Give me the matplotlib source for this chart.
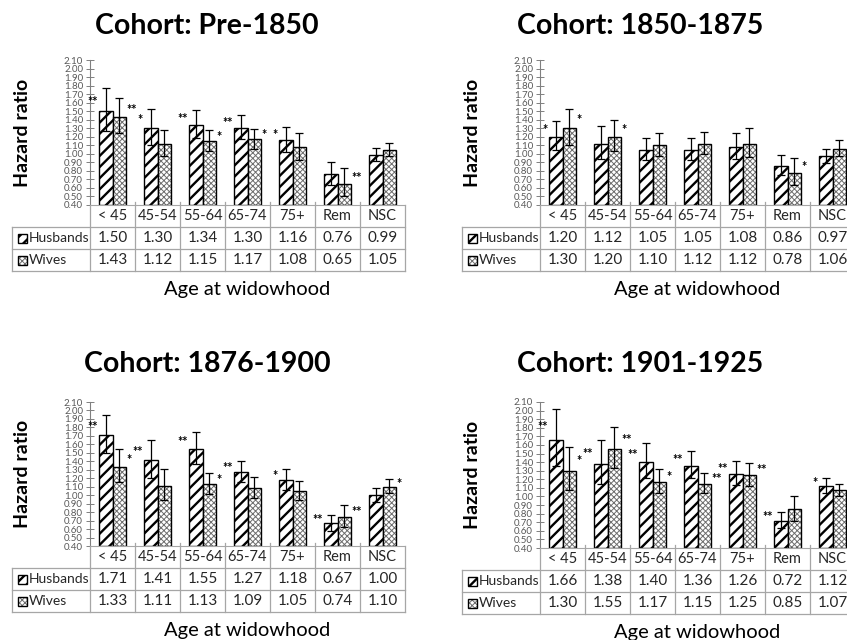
import matplotlib

matplotlib.use("Agg")
import matplotlib.pyplot as plt
from matplotlib.patches import Rectangle

plt.rcParams["font.family"] = ["Lato", "DejaVu Sans"]

W, H = 847, 640

categories = ["< 45", "45-54", "55-64", "65-74", "75+", "Rem", "NSC"]
cohorts = ["Pre-1850", "1850-1875", "1876-1900", "1901-1925"]
y_ticks = [0.40 + 0.10 * i for i in range(18)]

# hazard ratios (also printed in the table)
husbands = {
    "Pre-1850": [1.50, 1.30, 1.34, 1.30, 1.16, 0.76, 0.99],
    "1850-1875": [1.20, 1.12, 1.05, 1.05, 1.08, 0.86, 0.97],
    "1876-1900": [1.71, 1.41, 1.55, 1.27, 1.18, 0.67, 1.00],
    "1901-1925": [1.66, 1.38, 1.40, 1.36, 1.26, 0.72, 1.12],
}
wives = {
    "Pre-1850": [1.43, 1.12, 1.15, 1.17, 1.08, 0.65, 1.05],
    "1850-1875": [1.30, 1.20, 1.10, 1.12, 1.12, 0.78, 1.06],
    "1876-1900": [1.33, 1.11, 1.13, 1.09, 1.05, 0.74, 1.10],
    "1901-1925": [1.30, 1.55, 1.17, 1.15, 1.25, 0.85, 1.07],
}

# confidence intervals
husbands_lo = {
    "Pre-1850": [1.27, 1.10, 1.19, 1.17, 1.02, 0.64, 0.92],
    "1850-1875": [1.04, 0.94, 0.93, 0.93, 0.94, 0.75, 0.89],
    "1876-1900": [1.50, 1.20, 1.37, 1.15, 1.06, 0.58, 0.92],
    "1901-1925": [1.36, 1.15, 1.21, 1.21, 1.13, 0.63, 1.04],
}
husbands_hi = {
    "Pre-1850": [1.77, 1.53, 1.51, 1.45, 1.32, 0.90, 1.07],
    "1850-1875": [1.39, 1.33, 1.19, 1.19, 1.24, 0.99, 1.06],
    "1876-1900": [1.95, 1.65, 1.75, 1.40, 1.31, 0.77, 1.09],
    "1901-1925": [2.02, 1.66, 1.62, 1.53, 1.41, 0.825, 1.21],
}
wives_lo = {
    "Pre-1850": [1.24, 0.98, 1.03, 1.06, 0.93, 0.51, 0.98],
    "1850-1875": [1.10, 1.03, 0.98, 1.00, 0.96, 0.64, 0.97],
    "1876-1900": [1.15, 0.94, 1.01, 0.97, 0.94, 0.62, 1.02],
    "1901-1925": [1.07, 1.33, 1.04, 1.04, 1.12, 0.72, 1.00],
}
wives_hi = {
    "Pre-1850": [1.65, 1.28, 1.28, 1.29, 1.25, 0.83, 1.13],
    "1850-1875": [1.53, 1.40, 1.24, 1.26, 1.30, 0.95, 1.16],
    "1876-1900": [1.54, 1.31, 1.26, 1.22, 1.17, 0.88, 1.19],
    "1901-1925": [1.58, 1.81, 1.32, 1.27, 1.39, 1.00, 1.15],
}

# significance stars
husbands_sig = {
    "Pre-1850": ["**", "*", "**", "**", "*", "", ""],
    "1850-1875": ["*", "", "", "", "", "", ""],
    "1876-1900": ["**", "**", "**", "**", "*", "**", ""],
    "1901-1925": ["**", "**", "**", "**", "**", "**", "*"],
}
wives_sig = {
    "Pre-1850": ["**", "", "*", "*", "", "**", ""],
    "1850-1875": ["*", "*", "", "", "", "*", ""],
    "1876-1900": ["*", "", "*", "", "", "**", "*"],
    "1901-1925": ["*", "**", "*", "**", "**", "", ""],
}

# panel layout in pixels: y-axis x, y of 2.10, y of 0.40, left edge of table, title x/y
panels = {
    "Pre-1850": (90, 60, 205, 12, 207, 26),
    "1850-1875": (540, 60, 205, 462, 640, 26),
    "1876-1900": (90, 402, 546, 12, 207, 364),
    "1901-1925": (540, 402, 548, 462, 640, 364),
}
COL_W = 45
ROW_H = 22
BAR_W = 0.3
GRID = "#a6a6a6"
TEXT = "#262626"

H_HATCH = dict(hatch="///", color="black", lw=1.7)
W_HATCH = dict(hatch="xxxxxx", color="#6e6e6e", lw=0.7)


def fig_box(x0, y0, x1, y1):
    return [x0 / W, 1 - y1 / H, (x1 - x0) / W, (y1 - y0) / H]


def hatched_rect(ax, x, y, w, h, style, clip=True):
    p = Rectangle((x, y), w, h, facecolor="white", edgecolor=style["color"],
                  hatch=style["hatch"], lw=0, clip_on=clip)
    if hasattr(p, "set_hatch_linewidth"):
        p.set_hatch_linewidth(style["lw"])
    ax.add_patch(p)
    ax.add_patch(Rectangle((x, y), w, h, fill=False, edgecolor="black", lw=1.0, clip_on=clip))


def draw_panel(fig, cohort):
    ax_x, y_top, y_bot, tab_left, tx, ty = panels[cohort]
    n = len(categories)
    x_right = ax_x + n * COL_W
    ax = fig.add_axes(fig_box(ax_x, y_top, x_right, y_bot))
    ax.set_xlim(-0.5, n - 0.5)
    ax.set_ylim(0.40, 2.10)

    hv, wv = husbands[cohort], wives[cohort]
    for i in range(n):
        hatched_rect(ax, i - BAR_W, 0.40, BAR_W, hv[i] - 0.40, H_HATCH)
        hatched_rect(ax, i, 0.40, BAR_W, wv[i] - 0.40, W_HATCH)
    xs_h = [i - BAR_W / 2 for i in range(n)]
    xs_w = [i + BAR_W / 2 for i in range(n)]
    for xs, v, lo, hi in [
        (xs_h, hv, husbands_lo[cohort], husbands_hi[cohort]),
        (xs_w, wv, wives_lo[cohort], wives_hi[cohort]),
    ]:
        ax.errorbar(xs, v, yerr=[[a - b for a, b in zip(v, lo)], [b - a for a, b in zip(v, hi)]],
                    fmt="none", ecolor="black", elinewidth=0.9, capsize=3, capthick=0.9, zorder=5)
    for i in range(n):
        if husbands_sig[cohort][i]:
            y = hv[i] + 0.4 * (husbands_hi[cohort][i] - hv[i])
            ax.text(i - BAR_W - 0.02, y, husbands_sig[cohort][i], ha="right", va="center",
                    fontsize=9, fontweight="bold", color="black")
        if wives_sig[cohort][i]:
            y = wv[i] + 0.4 * (wives_hi[cohort][i] - wv[i])
            ax.text(i + BAR_W + 0.02, y, wives_sig[cohort][i], ha="left", va="center",
                    fontsize=9, fontweight="bold", color="black")

    ax.set_yticks(y_ticks)
    ax.set_yticklabels([f"{t:.2f}" for t in y_ticks], fontsize=7, color="#595959")
    ax.set_xticks([])
    ax.tick_params(axis="y", direction="inout", length=6, width=0.7, color="#808080", pad=2)
    for side in ["top", "right"]:
        ax.spines[side].set_visible(False)
    ax.spines["left"].set_color("#808080")
    ax.spines["bottom"].set_color(GRID)
    ax.patch.set_alpha(0)

    # data table under the chart
    left_cat = -0.5 - (ax_x - tab_left) / COL_W
    tab = fig.add_axes(fig_box(tab_left, y_bot, x_right, y_bot + 3 * ROW_H))
    tab.set_xlim(left_cat, n - 0.5)
    tab.set_ylim(3, 0)
    tab.axis("off")
    lk = dict(color=GRID, lw=0.9, clip_on=False)
    for k in range(n + 1):
        tab.plot([k - 0.5, k - 0.5], [-0.15 if 0 < k < n else 0, 3], **lk)
    tab.plot([left_cat, left_cat], [1, 3], **lk)
    for r in [1, 2, 3]:
        tab.plot([left_cat, n - 0.5], [r, r], **lk)
    for i, c in enumerate(categories):
        tab.text(i, 0.5, c, ha="center", va="center", fontsize=10.5, color=TEXT)
        tab.text(i, 1.5, f"{hv[i]:.2f}", ha="center", va="center", fontsize=11, color=TEXT)
        tab.text(i, 2.5, f"{wv[i]:.2f}", ha="center", va="center", fontsize=11, color=TEXT)
    key_w = 9 / COL_W
    key_h = 9 / ROW_H
    key_x = left_cat + 6 / COL_W
    for r, (label, style) in enumerate([("Husbands", H_HATCH), ("Wives", W_HATCH)]):
        hatched_rect(tab, key_x, 1.5 + r - key_h / 2, key_w, key_h, style, clip=False)
        tab.text(key_x + key_w + 2 / COL_W, 1.5 + r, label, ha="left", va="center",
                 fontsize=10, color=TEXT)

    fig.text(tx / W, 1 - ty / H, f"Cohort: {cohort}", ha="center", va="center",
             fontsize=20.5, fontweight="bold", color="black")
    fig.text((tab_left + 10) / W, 1 - (y_top + y_bot) / 2 / H, "Hazard ratio", rotation=90,
             ha="center", va="center", fontsize=14, fontweight="bold", color="black")
    fig.text((ax_x + x_right) / 2 / W, 1 - (y_bot + 3 * ROW_H + 10) / H, "Age at widowhood",
             ha="center", va="top", fontsize=14.5, color="black")


def main():
    fig = plt.figure(figsize=(W / 100, H / 100), dpi=100)
    fig.patch.set_facecolor("white")
    for cohort in cohorts:
        draw_panel(fig, cohort)
    fig.savefig("out.png", dpi=100, facecolor="white")
    plt.close(fig)


if __name__ == "__main__":
    main()
